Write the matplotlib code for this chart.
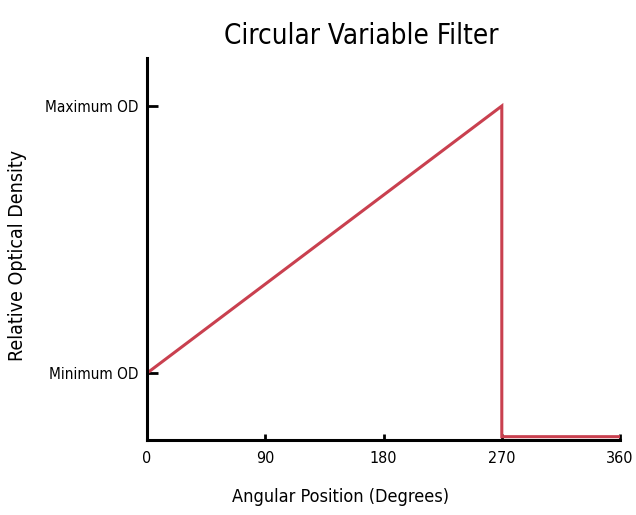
import matplotlib.pyplot as plt

# angular position (degrees) vs relative optical density
angle = [0, 270, 270, 360]
density = [0.2, 1.0, 0.01, 0.01]

xticks = [0, 90, 180, 270, 360]
ytick_pos = [0.2, 1.0]
ytick_labels = ["Minimum OD", "Maximum OD"]

plt.rcParams['font.family'] = ['DejaVu Sans']
plt.rcParams['font.stretch'] = 'condensed'

fig = plt.figure(figsize=(6.36, 5.15), dpi=100)
ax = fig.add_axes([0.231, 0.1456, 0.744, 0.742])

ax.plot(angle, density, color="#c9404f", linewidth=2.2, solid_joinstyle="miter")

ax.set_xlim(0, 360)
ax.set_ylim(0, 1.144)
ax.set_xticks(xticks)
ax.set_yticks(ytick_pos)
ax.set_yticklabels(ytick_labels)
ax.tick_params(axis="y", direction="in", length=8, width=2, labelsize=11, pad=6)
ax.tick_params(axis="x", direction="in", length=4, width=2, labelsize=11.5, pad=8)

for side in ["top", "right"]:
    ax.spines[side].set_visible(False)
for side in ["left", "bottom"]:
    ax.spines[side].set_linewidth(2.2)

fig.text(0.568, 0.93, "Circular Variable Filter", ha="center", va="center", fontsize=20)
fig.text(0.536, 0.035, "Angular Position (Degrees)", ha="center", va="center", fontsize=13)
fig.text(0.028, 0.504, "Relative Optical Density", ha="center", va="center",
         rotation=90, fontsize=14)

fig.savefig("out.png", dpi=100)
